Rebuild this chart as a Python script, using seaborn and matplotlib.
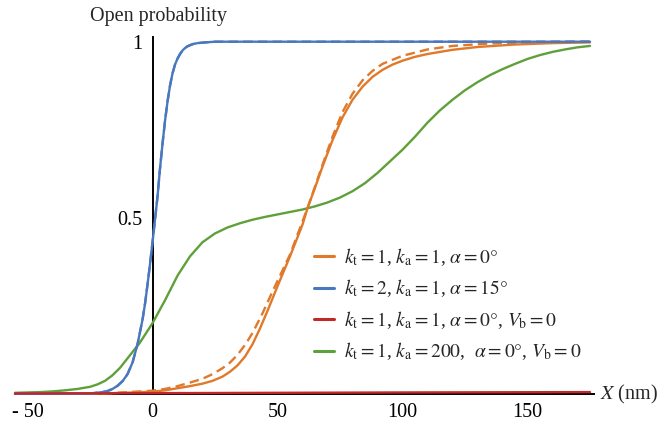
import matplotlib
matplotlib.use("Agg")
import matplotlib.pyplot as plt
import seaborn as sns
from matplotlib.lines import Line2D

# ---- data ----
blue_x = [-55, -25, -20, -18, -16, -14, -12, -10, -8, -6, -4, -3, -2, -1, 0, 1, 2, 3, 4, 5, 6, 7, 8, 9, 10,
          11, 12, 13, 14, 16, 18, 21, 25, 175]
blue_y = [0.0, 0.0, 0.004, 0.007, 0.013, 0.022, 0.035, 0.055, 0.088, 0.14, 0.21, 0.255, 0.31, 0.368, 0.43,
          0.495, 0.56, 0.64, 0.71, 0.775, 0.83, 0.875, 0.91, 0.935, 0.952, 0.965, 0.975, 0.982, 0.987,
          0.993, 0.996, 0.998, 1.0, 1.0]

orange_x = [-55, -20, 0, 5, 10, 15, 20, 24, 28, 31, 34, 37, 40, 43, 46, 50, 55, 60, 62, 65, 68, 72, 76, 80,
            84, 88, 92, 96, 100, 105, 110, 120, 130, 145, 160, 175]
orange_y = [0.0, 0.0, 0.005, 0.009, 0.015, 0.021, 0.028, 0.036, 0.048, 0.062, 0.08, 0.105, 0.14, 0.185,
            0.235, 0.305, 0.39, 0.48, 0.527, 0.585, 0.645, 0.72, 0.785, 0.835, 0.872, 0.9, 0.92, 0.935,
            0.946, 0.957, 0.965, 0.977, 0.985, 0.992, 0.996, 0.998]

orange_d_x = [-55, -20, 0, 5, 10, 15, 20, 24, 28, 31, 34, 37, 40, 44, 48, 55, 62, 68, 72, 76, 80, 84, 88, 92,
              100, 110, 120, 135, 150, 175]
orange_d_y = [0.0, 0.0, 0.008, 0.013, 0.021, 0.031, 0.042, 0.055, 0.072, 0.088, 0.11, 0.138, 0.172, 0.228,
              0.29, 0.395, 0.527, 0.65, 0.73, 0.8, 0.852, 0.89, 0.917, 0.937, 0.96, 0.978, 0.988, 0.995,
              0.998, 1.0]

red_x = [-55, 0, 50, 100, 175]
red_y = [0.0, 0.001, 0.002, 0.003, 0.004]

green_x = [-55, -45, -40, -35, -30, -25, -22, -19, -16, -13, -10, -5, 0, 5, 10, 15, 20, 25, 30, 35, 40, 45,
           50, 55, 60, 65, 70, 75, 80, 85, 90, 95, 100, 105, 110, 115, 120, 125, 130, 135, 140, 145, 150,
           155, 160, 165, 170, 175]
green_y = [0.002, 0.004, 0.006, 0.009, 0.013, 0.019, 0.026, 0.036, 0.052, 0.073, 0.1, 0.145, 0.2, 0.265,
           0.335, 0.39, 0.43, 0.455, 0.472, 0.484, 0.494, 0.502, 0.509, 0.516, 0.523, 0.532, 0.543, 0.557,
           0.575, 0.598, 0.627, 0.66, 0.693, 0.73, 0.77, 0.805, 0.835, 0.862, 0.885, 0.905, 0.922, 0.937,
           0.951, 0.962, 0.971, 0.978, 0.984, 0.988]

labels = [
    r"$k_{\mathrm{t}}=1$, $k_{\mathrm{a}}=1$, $\alpha=0°$",
    r"$k_{\mathrm{t}}=2$, $k_{\mathrm{a}}=1$, $\alpha=15°$",
    r"$k_{\mathrm{t}}=1$, $k_{\mathrm{a}}=1$, $\alpha=0°$, $V_{\mathrm{b}}=0$",
    r"$k_{\mathrm{t}}=1$, $k_{\mathrm{a}}=200$,  $\alpha=0°$, $V_{\mathrm{b}}=0$",
]
x_ticks = [-50, -25, 0, 25, 50, 75, 100, 125, 150]
x_tick_labels = ["- 50", "", "0", "", "50", "", "100", "", "150"]
y_ticks = [0.25, 0.5, 0.75, 1.0]
y_tick_labels = ["", "0.5", "", "1"]

c_orange = "#E0792A"
c_blue = "#4A78BE"
c_red = "#C0282C"
c_green = "#5FA03A"

sns.set_theme(style="white")
plt.rcParams["font.family"] = ["Liberation Serif", "DejaVu Serif"]
plt.rcParams["mathtext.fontset"] = "stix"

fig = plt.figure(figsize=(6.65, 4.25), dpi=100)
ax = fig.add_axes([0.0226, 0.0741, 0.871, 0.8377])

lw = 1.7
common = dict(ax=ax, sort=False, clip_on=False, linewidth=lw)
sns.lineplot(x=orange_x, y=orange_y, color=c_orange, zorder=5, **common)
sns.lineplot(x=orange_d_x, y=orange_d_y, color=c_orange, linestyle=(0, (4, 2.2)), zorder=5, **common)
sns.lineplot(x=green_x, y=green_y, color=c_green, zorder=4, **common)
sns.lineplot(x=blue_x, y=blue_y, color=c_blue, zorder=6, **common)
sns.lineplot(x=blue_x, y=blue_y, color=c_blue, linestyle=(0, (4, 2.2)), zorder=6, **common)
sns.lineplot(x=red_x, y=red_y, color=c_red, zorder=7, **common)

ax.set_xlim(-55, 176.7)
ax.set_ylim(0, 1.012)

for s in ["top", "right"]:
    ax.spines[s].set_visible(False)
ax.spines["left"].set_position(("data", 0))
ax.spines["bottom"].set_position(("data", 0))
for s in ["left", "bottom"]:
    ax.spines[s].set_color("black")
    ax.spines[s].set_linewidth(1.4)
    ax.spines[s].set_zorder(3)

ax.set_xticks(x_ticks)
ax.set_xticklabels(x_tick_labels)
ax.set_yticks(y_ticks)
ax.set_yticklabels(y_tick_labels)
ax.tick_params(axis="both", direction="out", length=4.5, width=1.0, color="#555555",
               labelsize=14.5, labelcolor="black")
ax.tick_params(axis="x", pad=2)
ax.tick_params(axis="y", pad=3)
ax.set_xlabel("")
ax.set_ylabel("")
ax.grid(False)

fig.text(159 / 665, 1 - 16 / 425, "Open probability", ha="center", va="center", fontsize=14.5)
fig.text(600 / 665, 1 - 394 / 425, "$X$ (nm)", ha="left", va="center", fontsize=14.5)

handles = [Line2D([], [], color=c, lw=2.2) for c in [c_orange, c_blue, c_red, c_green]]
ax.legend(handles, labels, loc="upper left", bbox_to_anchor=(314 / 665, 1 - 246 / 425),
          bbox_transform=fig.transFigure, frameon=False, fontsize=14,
          handlelength=1.05, handletextpad=0.5, labelspacing=0.5, borderpad=0, borderaxespad=0)

fig.savefig("out.png", dpi=100)
